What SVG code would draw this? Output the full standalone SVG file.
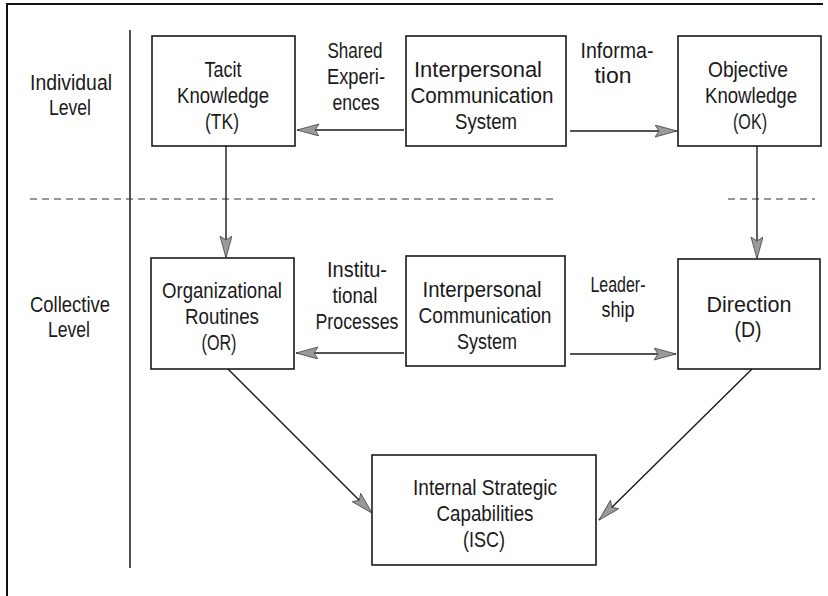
<svg xmlns="http://www.w3.org/2000/svg" width="828" height="596" viewBox="0 0 828 596">
<style>
text{font-family:"Liberation Sans",Arial,sans-serif;font-size:22px;fill:#1a1a1a;text-anchor:middle}
.box{fill:#fff;stroke:#1a1a1a;stroke-width:1.6}
.conn{stroke:#1a1a1a;stroke-width:1.4;fill:none}
.frame{stroke:#111;stroke-width:2;fill:none}
.sep{stroke:#1a1a1a;stroke-width:1.5;fill:none}
.dash{stroke:#333;stroke-width:1.2;stroke-dasharray:7 5;fill:none}
</style>
<defs>
<marker id="ah" markerUnits="userSpaceOnUse" markerWidth="24" markerHeight="14" refX="22" refY="6" orient="auto">
<path d="M0,0 L22,6 L0,12 L4,6 z" fill="#9a9a9a" stroke="#444" stroke-width="0.8"/>
</marker>
</defs>
<g id="frame">
<path class="frame" d="M7,596 V4 H823"/>
<path class="sep" d="M130,30 V568"/>
<path class="dash" d="M30,199 H558 M728,199 H815"/>
</g>
<g id="labels">
<text x="71" y="90" textLength="82" lengthAdjust="spacingAndGlyphs">Individual</text>
<text x="70" y="115" textLength="42" lengthAdjust="spacingAndGlyphs">Level</text>
<text x="70" y="312" textLength="80" lengthAdjust="spacingAndGlyphs">Collective</text>
<text x="69" y="337" textLength="42" lengthAdjust="spacingAndGlyphs">Level</text>
</g>
<g id="TK">
<rect class="box" x="152" y="36" width="143" height="110"/>
<text x="223" y="77" textLength="37" lengthAdjust="spacingAndGlyphs">Tacit</text>
<text x="223" y="103" textLength="92" lengthAdjust="spacingAndGlyphs">Knowledge</text>
<text x="222" y="129" textLength="34" lengthAdjust="spacingAndGlyphs">(TK)</text>
</g>
<g id="ICS1">
<rect class="box" x="406" y="36" width="160" height="110"/>
<text x="478" y="77" textLength="128" lengthAdjust="spacingAndGlyphs">Interpersonal</text>
<text x="482" y="103" textLength="143" lengthAdjust="spacingAndGlyphs">Communication</text>
<text x="486" y="129" textLength="62" lengthAdjust="spacingAndGlyphs">System</text>
</g>
<g id="OK">
<rect class="box" x="678" y="36" width="143" height="110"/>
<text x="748" y="77" textLength="80" lengthAdjust="spacingAndGlyphs">Objective</text>
<text x="751" y="103" textLength="92" lengthAdjust="spacingAndGlyphs">Knowledge</text>
<text x="750" y="129" textLength="34" lengthAdjust="spacingAndGlyphs">(OK)</text>
</g>
<g id="OR">
<rect class="box" x="151" y="258" width="143" height="111"/>
<text x="222" y="298" textLength="120" lengthAdjust="spacingAndGlyphs">Organizational</text>
<text x="222" y="324" textLength="74" lengthAdjust="spacingAndGlyphs">Routines</text>
<text x="219" y="350" textLength="35" lengthAdjust="spacingAndGlyphs">(OR)</text>
</g>
<g id="ICS2">
<rect class="box" x="406" y="256" width="159" height="110"/>
<text x="482" y="297" textLength="119" lengthAdjust="spacingAndGlyphs">Interpersonal</text>
<text x="485" y="323" textLength="133" lengthAdjust="spacingAndGlyphs">Communication</text>
<text x="487" y="349" textLength="60" lengthAdjust="spacingAndGlyphs">System</text>
</g>
<g id="D">
<rect class="box" x="678" y="259" width="142" height="110"/>
<text x="749" y="312" textLength="85" lengthAdjust="spacingAndGlyphs">Direction</text>
<text x="748" y="337" textLength="27" lengthAdjust="spacingAndGlyphs">(D)</text>
</g>
<g id="ISC">
<rect class="box" x="372" y="455" width="224" height="110"/>
<text x="485" y="495" textLength="144" lengthAdjust="spacingAndGlyphs">Internal Strategic</text>
<text x="485" y="521" textLength="97" lengthAdjust="spacingAndGlyphs">Capabilities</text>
<text x="484" y="547" textLength="42" lengthAdjust="spacingAndGlyphs">(ISC)</text>
</g>
<g id="connectors">
<line class="conn" x1="404" y1="130" x2="297" y2="130" marker-end="url(#ah)"/>
<line class="conn" x1="570" y1="131" x2="677" y2="131" marker-end="url(#ah)"/>
<line class="conn" x1="226" y1="146" x2="226" y2="258" marker-end="url(#ah)"/>
<line class="conn" x1="757" y1="146" x2="757" y2="259" marker-end="url(#ah)"/>
<line class="conn" x1="404" y1="353" x2="296" y2="353" marker-end="url(#ah)"/>
<line class="conn" x1="570" y1="354" x2="676" y2="354" marker-end="url(#ah)"/>
<line class="conn" x1="228" y1="369" x2="372" y2="513" marker-end="url(#ah)"/>
<line class="conn" x1="752" y1="369" x2="599" y2="520" marker-end="url(#ah)"/>
</g>
<g id="edge-labels">
<text x="355" y="58" textLength="55" lengthAdjust="spacingAndGlyphs">Shared</text>
<text x="356" y="84" textLength="58" lengthAdjust="spacingAndGlyphs">Experi-</text>
<text x="356" y="110" textLength="47" lengthAdjust="spacingAndGlyphs">ences</text>
<text x="617" y="58" textLength="73" lengthAdjust="spacingAndGlyphs">Informa-</text>
<text x="613" y="83" textLength="37" lengthAdjust="spacingAndGlyphs">tion</text>
<text x="357" y="277" textLength="60" lengthAdjust="spacingAndGlyphs">Institu-</text>
<text x="355" y="303" textLength="45" lengthAdjust="spacingAndGlyphs">tional</text>
<text x="357" y="329" textLength="83" lengthAdjust="spacingAndGlyphs">Processes</text>
<text x="618" y="292" textLength="55" lengthAdjust="spacingAndGlyphs">Leader-</text>
<text x="618" y="317" textLength="33" lengthAdjust="spacingAndGlyphs">ship</text>
</g>
</svg>
